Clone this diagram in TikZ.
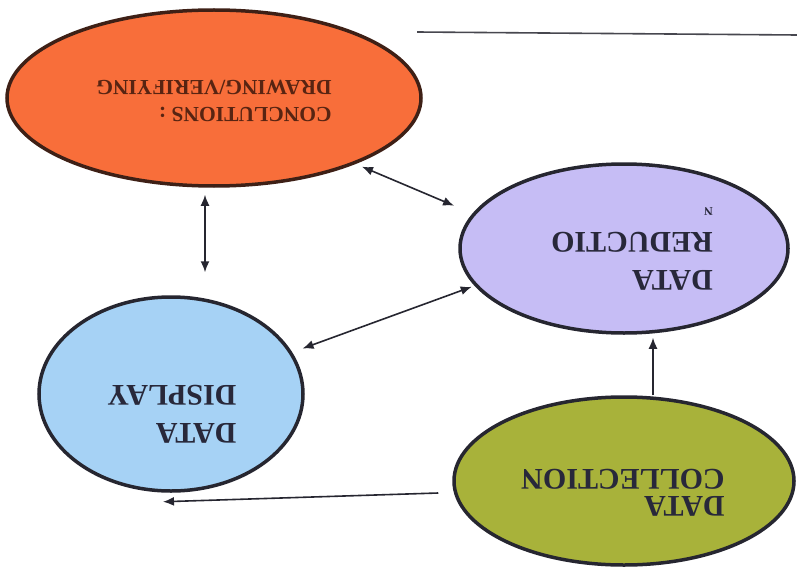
\documentclass[tikz,border=0pt]{standalone}
\usepackage{fontspec}
\setmainfont{Liberation Serif}
\usetikzlibrary{arrows.meta, shapes.geometric}
\definecolor{ConcOrange}{RGB}{248, 110, 58}
\definecolor{ConcEdge}{RGB}{62, 32, 22}
\definecolor{ConcText}{RGB}{88, 36, 18}
\definecolor{RedLilac}{RGB}{198, 189, 245}
\definecolor{DispBlue}{RGB}{166, 210, 245}
\definecolor{CollOlive}{RGB}{168, 178, 58}
\definecolor{Outline}{RGB}{38, 38, 48}
\definecolor{DarkText}{RGB}{40, 40, 58}

\begin{document}
\begin{tikzpicture}[x=1pt, y=-1pt,
  stage/.style={ellipse, draw=Outline, line width=3.5pt, inner sep=0pt},
  lbl/.style={rotate=180, align=left, inner sep=0pt, text=DarkText, font=\bfseries\fontsize{30}{38}\selectfont},
  link/.style={line width=1.6pt, draw=Outline, {Latex[length=11pt,width=9pt]}-{Latex[length=11pt,width=9pt]}},
  feed/.style={line width=1.6pt, draw=Outline, -{Latex[length=11pt,width=9pt]}}]
\useasboundingbox (0,0) rectangle (797,567);
\fill[white] (0,0) rectangle (797,567);
% the four stages
\node[stage, fill=ConcOrange, draw=ConcEdge, minimum width=414pt, minimum height=176pt] (conc) at (214,98) {};
\node[lbl, text=ConcText, font=\bfseries\fontsize{21.5}{27}\selectfont] (conc-t) at ([shift={(0pt,-3pt)}]conc.center) {CONCLUTIONS :\\DRAWING/VERIFYING};
\foreach \n/\x/\y/\w/\h/\col/\dx/\dy/\txt in {red/624/248.5/328/169/RedLilac/8/0/{DATA\\REDUCTIO\\[-13pt]{\fontsize{12}{14}\selectfont N}},
    disp/171/394/264/194/DispBlue/1/-20/{DATA\\DISPLAY},
    coll/624/481/340/168/CollOlive/-1/-12/{DATA\\[-11pt]COLLECTION}} {
  \node[stage, fill=\col, minimum width=\w pt, minimum height=\h pt] (\n) at (\x,\y) {};
  \node[lbl] (\n-t) at ([shift={(\dx pt,\dy pt)}]\n.center) {\txt};
}
% connectors
\draw[link, shorten <=7pt, shorten >=23pt] ([xshift=-9pt]conc.south) -- ([xshift=34pt]disp.north);
\draw[link, shorten <=7pt, shorten >=20pt] (conc.-25) -- (red.167);
\draw[link, shorten <=11pt, shorten >=3pt] (disp.19) -- (red.194);
\draw[feed, shorten >=3pt] ([xshift=29pt]coll.north) -- ([xshift=29pt]red.south);
\draw[feed] ([shift={(-14pt,-12pt)}]coll.west) -- ([shift={(-8pt,-9pt)}]disp.south);
\coordinate (rule-l) at (417,32);
\coordinate (rule-r) at (797,35);
\draw[line width=1.6pt, Outline!85] (rule-l) -- (rule-r);
\end{tikzpicture}
\end{document}
